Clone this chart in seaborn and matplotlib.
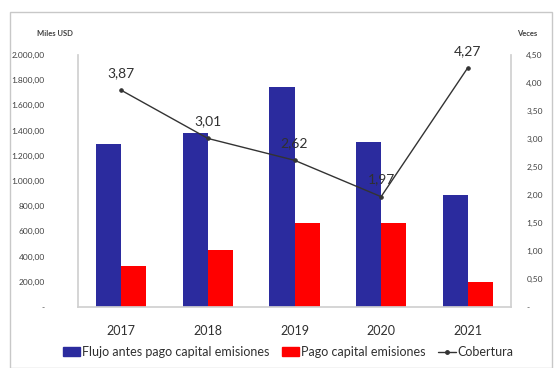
import matplotlib
matplotlib.use("Agg")
import matplotlib.pyplot as plt
from matplotlib.patches import Rectangle
from matplotlib.lines import Line2D
from matplotlib.ticker import FuncFormatter
import seaborn as sns
import pandas as pd

years = ["2017", "2018", "2019", "2020", "2021"]
flujo = [1290, 1380, 1745, 1310, 890]
pago = [325, 452, 667, 665, 198]
cobertura = [3.87, 3.01, 2.62, 1.97, 4.27]

serie_flujo = "Flujo antes pago capital emisiones"
serie_pago = "Pago capital emisiones"
serie_cob = "Cobertura"

blue = "#2B2B9E"
red = "#FF0000"

sns.set_theme(style="white")
plt.rcParams["font.family"] = ["Lato", "DejaVu Sans"]

df = pd.DataFrame({
    "year": years * 2,
    "value": flujo + pago,
    "serie": [serie_flujo] * len(years) + [serie_pago] * len(years),
})

fig = plt.figure(figsize=(5.54, 3.68), dpi=100)
fig.add_artist(Rectangle((10 / 554, 0), 1 - 12 / 554, 1 - 12 / 368,
                         transform=fig.transFigure, fill=False,
                         edgecolor="#C8C8C8", linewidth=1.0))

ax = fig.add_axes([78 / 554, 1 - 307 / 368, (511 - 78) / 554, (307 - 55) / 368])
sns.barplot(data=df, x="year", y="value", hue="serie",
            palette=[blue, red], width=0.58, ax=ax, legend=False,
            saturation=1, edgecolor="none")
ax.set_ylim(0, 2000)
ax.set_yticks(range(0, 2001, 200))


def miles(v, _):
    if v == 0:
        return "-"
    s = f"{v:,.2f}"
    return s.replace(",", "X").replace(".", ",").replace("X", ".")


ax.yaxis.set_major_formatter(FuncFormatter(miles))
ax.set_xlabel("")
ax.set_ylabel("")
ax.tick_params(axis="y", labelsize=6, colors="#404040", length=0, pad=24)
ax.tick_params(axis="x", labelsize=9, colors="#303030", length=0, pad=13)
ax.spines["top"].set_visible(False)
ax.spines["left"].set_color("#D0D0D0")
ax.spines["bottom"].set_color("#D0D0D0")
ax.spines["right"].set_visible(False)

ax2 = ax.twinx()
sns.pointplot(x=years, y=cobertura, ax=ax2, color="#333333",
              markers="o", markersize=2.5, linewidth=1.0, errorbar=None)
ax2.set_ylim(0, 4.5)
ax2.set_yticks([0, 0.5, 1, 1.5, 2, 2.5, 3, 3.5, 4, 4.5])
ax2.yaxis.set_major_formatter(
    FuncFormatter(lambda v, _: "-" if v == 0 else f"{v:.2f}".replace(".", ",")))
ax2.tick_params(axis="y", labelsize=6, colors="#404040", length=0, pad=11)
for side in ["top", "left", "bottom"]:
    ax2.spines[side].set_visible(False)
ax2.spines["right"].set_color("#D0D0D0")
ax2.set_ylabel("")

for i, v in enumerate(cobertura):
    ax2.annotate(f"{v:.2f}".replace(".", ","), (i, v), xytext=(0, 8),
                 textcoords="offset points", ha="center", va="bottom",
                 fontsize=10, color="#303030")

fig.text(55 / 554, 1 - 34 / 368, "Miles USD", fontsize=5.5, fontweight="bold",
         color="#404040", ha="center", va="center")
fig.text(527 / 554, 1 - 34 / 368, "Veces", fontsize=5.5, fontweight="bold",
         color="#404040", ha="center", va="center")

handles = [
    Rectangle((0, 0), 1, 1, color=blue),
    Rectangle((0, 0), 1, 1, color=red),
    Line2D([0], [0], color="#333333", marker="o", markersize=2.5, linewidth=1.0),
]
fig.legend(handles, [serie_flujo, serie_pago, serie_cob], loc="center",
           bbox_to_anchor=(0.52, 1 - 352 / 368), ncol=3, frameon=False,
           fontsize=9, handlelength=1.4, handletextpad=0.15, columnspacing=1.0,
           labelcolor="#303030")

fig.savefig("out.png", dpi=100)
